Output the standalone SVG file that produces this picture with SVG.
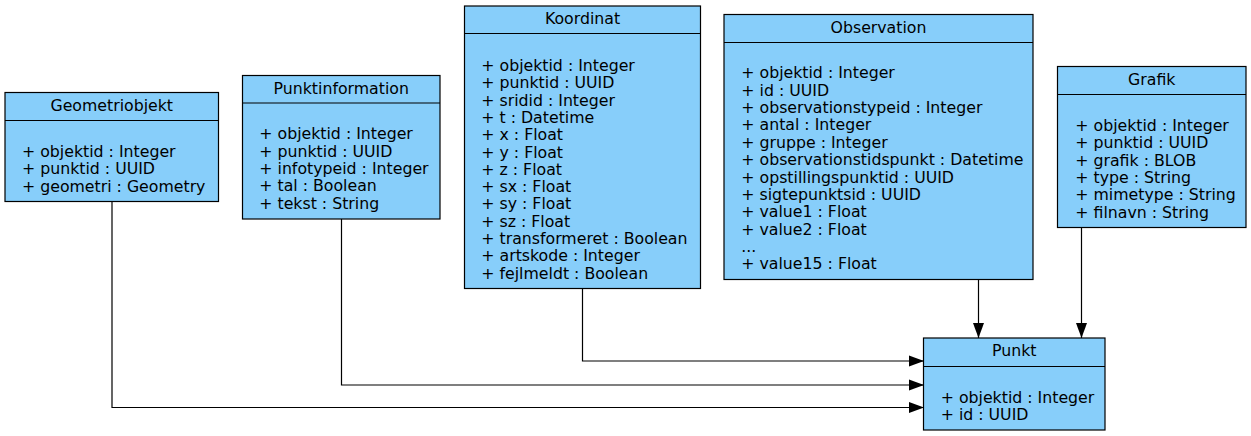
<svg xmlns="http://www.w3.org/2000/svg" width="1251" height="436" viewBox="0 0 1251 436">
<defs>
<style>
.box{fill:#87cefa;stroke:#000;stroke-width:1.2}
.div{stroke:#000;stroke-width:1.2}
text{font-family:"DejaVu Sans",sans-serif;font-size:15.75px;fill:#000}
.t{text-anchor:middle}
.edge{fill:none;stroke:#000;stroke-width:1.2;marker-end:url(#arr)}
</style>
<marker id="arr" markerUnits="userSpaceOnUse" markerWidth="16" markerHeight="12" refX="15" refY="5.5" orient="auto" viewBox="0 0 16 11">
<path d="M0,0 L15,5.5 L0,11 z" fill="#000"/>
</marker>
</defs>
<rect width="1251" height="436" fill="#fff"/>
<g id="connectors">
<path class="edge" d="M112,201.5 V407.5 H924"/>
<path class="edge" d="M341.5,219 V385 H924"/>
<path class="edge" d="M582.5,288.5 V361 H924"/>
<path class="edge" d="M978.5,279.5 V338"/>
<path class="edge" d="M1081.5,227.5 V338"/>
</g>
<g id="Geometriobjekt">
<rect class="box" x="5" y="92.5" width="213.5" height="109"/>
<line class="div" x1="5" y1="120.5" x2="218.5" y2="120.5"/>
<text class="t" x="111.75" y="110.5">Geometriobjekt</text>
<text x="22" y="157">+ objektid : Integer</text>
<text x="22" y="174.4">+ punktid : UUID</text>
<text x="22" y="191.8">+ geometri : Geometry</text>
</g>
<g id="Punktinformation">
<rect class="box" x="242.5" y="75.5" width="197.5" height="143.5"/>
<line class="div" x1="242.5" y1="103" x2="440" y2="103"/>
<text class="t" x="341.25" y="93.5">Punktinformation</text>
<text x="259.3" y="139.3">+ objektid : Integer</text>
<text x="259.3" y="156.7">+ punktid : UUID</text>
<text x="259.3" y="174">+ infotypeid : Integer</text>
<text x="259.3" y="191.4">+ tal : Boolean</text>
<text x="259.3" y="208.8">+ tekst : String</text>
</g>
<g id="Koordinat">
<rect class="box" x="464.5" y="6" width="236" height="282.5"/>
<line class="div" x1="464.5" y1="33.5" x2="700.5" y2="33.5"/>
<text class="t" x="582.5" y="24">Koordinat</text>
<text x="481.3" y="71">+ objektid : Integer</text>
<text x="481.3" y="88.3">+ punktid : UUID</text>
<text x="481.3" y="105.6">+ sridid : Integer</text>
<text x="481.3" y="122.9">+ t : Datetime</text>
<text x="481.3" y="140.2">+ x : Float</text>
<text x="481.3" y="157.5">+ y : Float</text>
<text x="481.3" y="174.8">+ z : Float</text>
<text x="481.3" y="192.1">+ sx : Float</text>
<text x="481.3" y="209.4">+ sy : Float</text>
<text x="481.3" y="226.7">+ sz : Float</text>
<text x="481.3" y="244">+ transformeret : Boolean</text>
<text x="481.3" y="261.3">+ artskode : Integer</text>
<text x="481.3" y="278.6">+ fejlmeldt : Boolean</text>
</g>
<g id="Observation">
<rect class="box" x="724" y="14.5" width="309" height="265"/>
<line class="div" x1="724" y1="42.5" x2="1033" y2="42.5"/>
<text class="t" x="878.5" y="32.7">Observation</text>
<text x="741.3" y="78.3">+ objektid : Integer</text>
<text x="741.3" y="95.7">+ id : UUID</text>
<text x="741.3" y="113">+ observationstypeid : Integer</text>
<text x="741.3" y="130.4">+ antal : Integer</text>
<text x="741.3" y="147.7">+ gruppe : Integer</text>
<text x="741.3" y="165.1">+ observationstidspunkt : Datetime</text>
<text x="741.3" y="182.5">+ opstillingspunktid : UUID</text>
<text x="741.3" y="199.8">+ sigtepunktsid : UUID</text>
<text x="741.3" y="217.2">+ value1 : Float</text>
<text x="741.3" y="234.5">+ value2 : Float</text>
<text x="741.3" y="251.9">...</text>
<text x="741.3" y="269.3">+ value15 : Float</text>
</g>
<g id="Grafik">
<rect class="box" x="1057.5" y="66.5" width="188.5" height="161"/>
<line class="div" x1="1057.5" y1="94.5" x2="1246" y2="94.5"/>
<text class="t" x="1151.75" y="84.5">Grafik</text>
<text x="1075.3" y="131">+ objektid : Integer</text>
<text x="1075.3" y="148.3">+ punktid : UUID</text>
<text x="1075.3" y="165.7">+ grafik : BLOB</text>
<text x="1075.3" y="183">+ type : String</text>
<text x="1075.3" y="200.4">+ mimetype : String</text>
<text x="1075.3" y="217.7">+ filnavn : String</text>
</g>
<g id="Punkt">
<rect class="box" x="923.5" y="338" width="181.5" height="92"/>
<line class="div" x1="923.5" y1="366.5" x2="1105" y2="366.5"/>
<text class="t" x="1014.25" y="356">Punkt</text>
<text x="940.7" y="402.7">+ objektid : Integer</text>
<text x="940.7" y="420">+ id : UUID</text>
</g>
</svg>
